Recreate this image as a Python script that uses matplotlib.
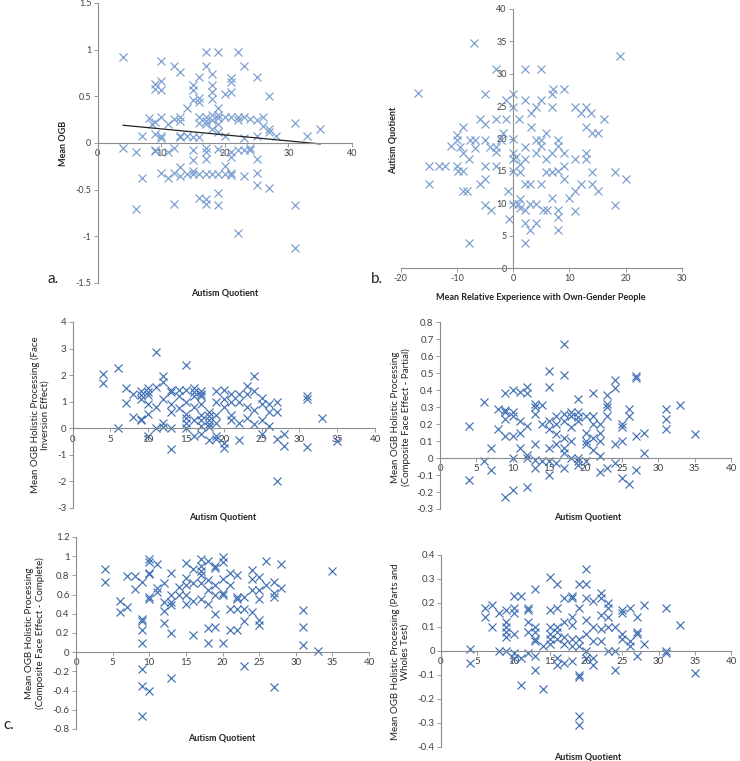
import matplotlib
matplotlib.use("Agg")
import matplotlib.pyplot as plt
from matplotlib.ticker import MultipleLocator, FuncFormatter

plt.rcParams['font.family'] = ['Lato', 'DejaVu Sans']
plt.rcParams['axes.unicode_minus'] = False

# ---- panel a: AQ vs mean OGB ----
a_aq = [4, 4, 6, 6, 7, 7, 8, 8.5,
        9, 9, 9, 9, 9, 9,
        10, 10, 10, 10, 10, 10, 10,
        11, 11, 11,
        12, 12, 12, 12, 12,
        13, 13, 13, 13, 13, 13, 13,
        14, 14, 14,
        15, 15, 15, 15, 15, 15, 15, 15,
        16, 16, 16, 16, 16, 16, 16, 16,
        17, 17, 17, 17, 17, 17, 17, 17, 17, 17, 17,
        18, 18, 18, 18, 18, 18, 18, 18,
        19, 19, 19, 19, 19, 19, 19, 19, 19, 19,
        20, 20, 20, 20, 20,
        21, 21, 21, 21, 21, 21, 21, 21,
        22, 22, 22, 22, 22,
        23, 23, 23, 23, 23,
        24, 24, 24,
        25, 25, 25, 25, 25, 25,
        26, 26,
        27, 27, 27, 27,
        28, 31, 31, 31, 33, 35]
a_ogb = [0.92, -0.05, -0.10, -0.71, 0.07, -0.38, 0.27, 0.20,
         0.63, 0.58, 0.22, 0.10, -0.08, -0.09,
         0.88, 0.66, 0.57, 0.28, 0.07, 0.05, -0.32,
         0.20, -0.10, -0.38,
         0.83, 0.26, -0.05, -0.32, -0.65,
         0.76, 0.28, 0.24, 0.07, 0.06, -0.26, -0.35,
         0.37, 0.07, -0.33,
         0.62, 0.57, 0.46, 0.06, -0.08, -0.18, -0.30, -0.33,
         0.71, 0.48, 0.44, 0.28, 0.21, 0.06, -0.33, -0.59,
         0.97, 0.83, 0.28, 0.24, 0.20, -0.05, -0.10, -0.17, -0.33, -0.60, -0.65,
         0.74, 0.62, 0.55, 0.47, 0.30, 0.25, 0.15, -0.33,
         0.98, 0.38, 0.30, 0.27, 0.20, 0.12, -0.06, -0.33, -0.54, -0.66,
         0.52, 0.28, 0.08, -0.25, -0.33,
         0.70, 0.65, 0.55, 0.28, -0.10, -0.15, -0.32, -0.34,
         0.98, 0.28, 0.25, -0.08, -0.96,
         0.82, 0.28, 0.05, -0.08, -0.35,
         0.26, -0.05, -0.08,
         0.71, 0.25, 0.08, -0.17, -0.32, -0.45,
         0.28, 0.18,
         0.50, 0.15, 0.12, -0.48,
         0.07, 0.21, -0.66, -1.13, 0.07, 0.15]
trend_x = [4, 35]
trend_y = [0.19, -0.01]

# ---- panel b: relative experience vs AQ ----
b_exp = [-16.9, -14.9, -14.9, -13.1, -12.1, -11.1, -9.9, -9.9, -9.9, -9.8,
         -9.5, -8.9, -8.9, -8.9, -8.9, -8.2, -7.9, -7.9, -7.7, -7.0,
         -6.8, -6.8, -5.9, -5.9, -5.0, -5.0, -5.0, -5.0, -5.0, -5.0,
         -4.1, -4.0, -3.1, -3.1, -3.1, -3.1, -3.0, -2.1, -1.8, -1.2,
         -1.2, -0.9, -0.7, 0.0, 0.0, 0.0, 0.0, 0.0, 0.0, 0.0,
         0.6, 0.9, 1.0, 1.2, 1.2, 1.2, 1.2, 2.1, 2.1, 2.1,
         2.1, 2.1, 2.1, 2.1, 2.1, 3.0, 3.0, 3.0, 3.1, 3.1,
         4.0, 4.0, 4.0, 4.0, 4.0, 5.0, 5.0, 5.0, 5.0, 5.0,
         5.3, 5.9, 5.9, 5.9, 6.1, 6.9, 6.9, 6.9, 6.9, 6.9,
         7.1, 8.0, 8.0, 8.0, 8.0, 8.0, 8.0, 9.1, 9.1, 9.1,
         9.1, 10.0, 11.0, 11.0, 11.0, 11.0, 12.0, 12.0, 13.0, 13.0,
         13.0, 13.0, 13.9, 14.0, 14.0, 14.1, 15.1, 15.1, 16.1, 18.2,
         18.2, 19.1, 20.1]
b_aq = [27, 15.8, 12.9, 15.8, 15.8, 18.9, 20.6, 19.7, 15.8, 15,
        18.7, 21.7, 17.7, 15, 11.9, 11.9, 3.8, 16.8, 19.7, 34.8,
        19.7, 18.6, 12.9, 23, 22.2, 26.8, 19.7, 15.8, 13.8, 9.7,
        18.7, 8.9, 30.8, 23, 18.7, 17.9, 15.7, 19.7, 20.8, 25.9,
        23, 11.9, 7.6, 26.8, 24.9, 19.9, 17.7, 16.8, 15, 9.9,
        17.2, 9.9, 23, 16.1, 14.8, 10.7, 9.2, 25.9, 30.8, 18.7,
        16.8, 13, 8.9, 7, 3.8, 12.9, 9.9, 5.9, 23.9, 21.8,
        24.9, 19.7, 17.7, 9.9, 7, 25.9, 30.8, 19.7, 18.9, 12.9,
        8.9, 20.8, 16.8, 14.8, 8.9, 26.8, 24.9, 17.7, 14.8, 10.8,
        27.7, 19.7, 18.9, 15, 8.9, 7.9, 5.8, 27.7, 17.7, 15.8,
        13.8, 10.8, 24.9, 16.8, 11.9, 8.8, 12.9, 23.9, 24.9, 21.8,
        17.7, 16.8, 23.9, 14.8, 12.9, 20.8, 20.8, 11.9, 23, 14.8,
        9.8, 32.8, 13.8]

# ---- panel c (top left): face inversion effect ----
fie_aq = [4, 4, 6, 6, 7, 7, 8, 8,
          9, 9, 9, 9, 9,
          10, 10, 10, 10, 10, 10,
          11, 11, 11, 11,
          12, 12, 12, 12, 12,
          13, 13, 13, 13, 13, 13,
          14, 14, 14,
          15, 15, 15, 15, 15, 15, 15,
          16, 16, 16, 16, 16, 16,
          17, 17, 17, 17, 17, 17, 17, 17,
          18, 18, 18, 18, 18, 18,
          19, 19, 19, 19, 19, 19,
          20, 20, 20, 20, 20,
          21, 21, 21, 21,
          22, 22, 22, 22,
          23, 23, 23, 23,
          24, 24, 24, 24,
          25, 25, 25, 25,
          26, 26, 26,
          27, 27, 27, 27,
          28, 28, 31, 31, 31, 33, 35]
fie_val = [2.03, 1.70, 2.28, 0.0, 1.5, 0.97, 1.3, 0.42,
           1.4, 1.25, 1.1, 0.35, 0.3,
           1.5, 1.35, 1.25, 0.9, 0.55, -0.3,
           2.88, 1.55, 0.8, 0.0,
           1.98, 1.75, 1.1, 0.2, 0.05,
           1.45, 1.35, 0.9, 0.6, 0.0, -0.77,
           1.45, 1.2, 0.75,
           2.38, 1.45, 1.0, 0.55, 0.4, 0.2, 0.0,
           1.5, 1.35, 1.2, 0.8, 0.3, -0.3,
           1.4, 1.3, 1.2, 0.9, 0.5, 0.3, 0.1, -0.2,
           0.6, 0.45, 0.3, 0.15, 0.05, -0.45,
           1.4, 1.0, 0.5, 0.2, -0.3, -0.4,
           1.45, 1.1, 0.8, -0.55, -0.75,
           1.3, 1.0, 0.5, 0.3,
           1.3, 1.0, 0.2, -0.43,
           1.6, 1.3, 0.8, 0.4,
           1.95, 1.4, 0.7, 0.15,
           1.15, 0.9, 0.3, -0.2,
           0.9, 0.6, 0.1,
           1.0, 0.6, -0.42, -2.0,
           -0.2, -0.65, 1.2, 1.1, -0.7, 0.4, -0.48]

# ---- panel c (top right): composite face effect, partial ----
cp_aq = [4, 4, 6, 6, 7, 7, 8, 8,
         9, 9, 9, 9, 9, 9,
         10, 10, 10, 10, 10, 10,
         11, 11, 11, 11,
         12, 12, 12, 12, 12, 12,
         13, 13, 13, 13, 13, 13,
         14, 14, 14,
         15, 15, 15, 15, 15, 15, 15,
         16, 16, 16, 16, 16,
         17, 17, 17, 17, 17, 17, 17, 17,
         18, 18, 18, 18, 18,
         19, 19, 19, 19, 19, 19, 19,
         20, 20, 20, 20, 20,
         21, 21, 21, 21, 21,
         22, 22, 22, 22, 22,
         23, 23, 23, 23, 23,
         24, 24, 24, 24,
         25, 25, 25, 25,
         26, 26, 26,
         27, 27, 27, 27,
         28, 28, 31, 31, 31, 33, 35]
cp_val = [0.19, -0.13, 0.33, -0.02, 0.06, -0.07, 0.29, 0.17,
          0.38, 0.28, 0.27, 0.23, 0.13, -0.23,
          0.40, 0.27, 0.25, 0.13, 0.0, -0.19,
          0.39, 0.22, 0.15, 0.06,
          0.42, 0.38, 0.19, 0.02, 0.0, -0.17,
          0.32, 0.30, 0.26, 0.08, -0.01, -0.06,
          0.31, 0.20, -0.02,
          0.51, 0.42, 0.22, 0.17, 0.06, -0.02, -0.10,
          0.25, 0.20, 0.14, 0.08, -0.03,
          0.67, 0.49, 0.26, 0.22, 0.12, 0.06, 0.03, -0.06,
          0.27, 0.25, 0.18, 0.10, 0.0,
          0.35, 0.27, 0.24, 0.22, 0.0, -0.02, -0.04,
          0.25, 0.15, 0.10, 0.08, -0.02,
          0.38, 0.25, 0.20, 0.12, 0.05,
          0.20, 0.15, 0.10, 0.01, -0.08,
          0.37, 0.32, 0.30, 0.25, -0.06,
          0.46, 0.41, 0.08, -0.03,
          0.20, 0.18, 0.10, -0.12,
          0.29, 0.25, -0.15,
          0.48, 0.47, 0.13, -0.07,
          0.15, 0.03, 0.29, 0.23, 0.17, 0.31, 0.14]

# ---- panel c (bottom left): composite face effect, complete ----
cc_aq = [4, 4, 6, 6, 7, 7, 8, 8,
         9, 9, 9, 9, 9, 9, 9, 9,
         10, 10, 10, 10, 10, 10, 10,
         11, 11, 11,
         12, 12, 12, 12,
         13, 13, 13, 13, 13, 13,
         14, 14,
         15, 15, 15, 15, 15,
         16, 16, 16, 16,
         17, 17, 17, 17, 17, 17,
         18, 18, 18, 18, 18, 18,
         19, 19, 19, 19, 19, 19,
         20, 20, 20, 20, 20, 20,
         21, 21, 21, 21,
         22, 22, 22, 22, 22,
         23, 23, 23, 23,
         24, 24, 24, 24,
         25, 25, 25, 25, 25,
         26, 26,
         27, 27, 27, 27,
         28, 28, 31, 31, 31, 33, 35]
cc_val = [0.87, 0.73, 0.53, 0.42, 0.79, 0.47, 0.79, 0.66,
          0.73, 0.35, 0.33, 0.23, 0.10, -0.18, -0.35, -0.66,
          0.97, 0.94, 0.83, 0.81, 0.57, 0.55, -0.40,
          0.92, 0.67, 0.63,
          0.72, 0.52, 0.43, 0.30,
          0.83, 0.60, 0.52, 0.49, 0.20, -0.27,
          0.68, 0.60,
          0.93, 0.77, 0.70, 0.60, 0.50,
          0.87, 0.72, 0.53, 0.18,
          0.97, 0.90, 0.85, 0.80, 0.72, 0.55,
          0.95, 0.75, 0.65, 0.50, 0.25, 0.10,
          0.90, 0.88, 0.70, 0.60, 0.40, 0.26,
          0.99, 0.94, 0.76, 0.62, 0.60, 0.10,
          0.83, 0.70, 0.45, 0.23,
          0.80, 0.58, 0.55, 0.45, 0.23,
          0.58, 0.45, 0.33, -0.14,
          0.86, 0.76, 0.65, 0.42,
          0.78, 0.65, 0.55, 0.34, 0.28,
          0.95, 0.70,
          0.73, 0.62, 0.57, -0.36,
          0.92, 0.67, 0.44, 0.26, 0.08, 0.01, 0.85]

# ---- panel c (bottom right): parts and wholes test ----
pw_aq = [4, 4, 6, 6, 7, 7, 8, 8,
         9, 9, 9, 9, 9, 9,
         10, 10, 10, 10, 10, 10,
         11, 11, 11,
         12, 12, 12, 12, 12,
         13, 13, 13, 13, 13, 13, 13,
         14, 14,
         15, 15, 15, 15, 15, 15,
         16, 16, 16, 16, 16, 16, 16,
         17, 17, 17, 17, 17,
         18, 18, 18, 18, 18, 18, 18,
         19, 19, 19, 19, 19, 19, 19, 19,
         20, 20, 20, 20, 20, 20, 20,
         21, 21, 21, 21, 21,
         22, 22, 22, 22, 22,
         23, 23, 23, 23, 23,
         24, 24, 24,
         25, 25, 25, 25,
         26, 26, 26,
         27, 27, 27, 27,
         28, 28, 31, 31, 31, 33, 35]
pw_val = [0.01, -0.05, 0.18, 0.14, 0.19, 0.10, 0.16, 0.0,
          0.17, 0.12, 0.10, 0.08, 0.06, 0.0,
          0.23, 0.18, 0.16, 0.07, -0.01, -0.03,
          0.23, -0.03, -0.14,
          0.18, 0.17, 0.12, 0.08, -0.01,
          0.26, 0.10, 0.08, 0.05, 0.04, -0.02, -0.08,
          0.02, -0.16,
          0.31, 0.17, 0.10, 0.07, 0.05, 0.03,
          0.28, 0.18, 0.10, 0.08, 0.05, -0.03, -0.06,
          0.22, 0.12, 0.06, 0.03, -0.05,
          0.23, 0.22, 0.14, 0.11, 0.05, 0.02, -0.04,
          0.28, 0.18, 0.05, 0.02, -0.10, -0.11, -0.27, -0.31,
          0.34, 0.28, 0.22, 0.13, 0.07, 0.0, -0.03,
          0.21, 0.10, 0.04, -0.03, -0.06,
          0.24, 0.22, 0.15, 0.09, 0.04,
          0.20, 0.18, 0.14, 0.10, 0.0,
          0.10, 0.0, -0.08,
          0.17, 0.16, 0.07, 0.05,
          0.18, 0.04, 0.02,
          0.14, 0.08, 0.07, -0.02,
          0.19, 0.03, 0.18, 0.0, -0.01, 0.11, -0.09]

W, H = 740, 761
fig = plt.figure(figsize=(W / 100, H / 100), dpi=100)


def box(x0, x1, ytop, ybot):
    return [x0 / W, 1 - ybot / H, (x1 - x0) / W, (ybot - ytop) / H]


def label(x, y, s, **kw):
    fig.text(x / W, 1 - y / H, s, ha='center', va='center', color='#222222', **kw)


def fmt(v, pos):
    if abs(v) < 1e-9:
        v = 0
    return '%g' % round(v, 2)


def style(ax, xlim, ylim, xstep, ystep, size=6.5):
    ax.set_xlim(*xlim)
    ax.set_ylim(*ylim)
    ax.patch.set_visible(False)
    for s in ('top', 'right'):
        ax.spines[s].set_visible(False)
    ax.spines['left'].set_position(('data', 0))
    ax.spines['bottom'].set_position(('data', 0))
    for s in ('left', 'bottom'):
        ax.spines[s].set_color('#8c8c8c')
        ax.spines[s].set_linewidth(0.8)
    ax.xaxis.set_major_locator(MultipleLocator(xstep))
    ax.yaxis.set_major_locator(MultipleLocator(ystep))
    ax.xaxis.set_major_formatter(FuncFormatter(fmt))
    ax.yaxis.set_major_formatter(FuncFormatter(fmt))
    ax.tick_params(length=3, width=0.6, color='#8c8c8c', labelsize=size,
                   labelcolor='#404040', pad=1.5)


light = '#789dcf'
dark = '#3f6fb4'
mk = dict(ls='none', marker='x', ms=6, mew=0.85)

# a.
ax = fig.add_axes(box(97.7, 352, 3, 283))
style(ax, (0, 40), (-1.5, 1.5), 10, 0.5)
ax.plot(a_aq, a_ogb, color=light, **mk)
ax.plot(trend_x, trend_y, color='#222222', lw=0.9)
label(64, 143, 'Mean OGB', rotation=90, fontsize=6.5, fontweight='bold')
label(225, 293, 'Autism Quotient', fontsize=6.5, fontweight='bold')
label(53, 279, 'a.', fontsize=11)

# b.
ax = fig.add_axes(box(400.7, 681.7, 9, 268))
style(ax, (-20, 30), (0, 40), 10, 5)
ax.plot(b_exp, b_aq, color=light, **mk)
label(393, 140, 'Autism Quotient', rotation=90, fontsize=6.5, fontweight='bold')
label(541, 297, 'Mean Relative Experience with Own-Gender People',
      fontsize=6.5, fontweight='bold')
label(377, 279, 'b.', fontsize=11)

# c. four holistic processing measures
panels = [
    (box(72.7, 375, 322, 508), (-3, 4), 1, fie_aq, fie_val,
     'Mean OGB Holistic Processing (Face\nInversion Effect)', (40, 415), (223, 517)),
    (box(440, 731, 322, 509), (-0.3, 0.8), 0.1, cp_aq, cp_val,
     'Mean OGB Holistic Processing\n(Composite Face Effect - Partial)', (401, 417), (588, 517)),
    (box(76, 369, 537, 729), (-0.8, 1.2), 0.2, cc_aq, cc_val,
     'Mean OGB Holistic Processing\n(Composite Face Effect - Complete)', (35, 633), (222, 738)),
    (box(441, 731, 555, 747), (-0.4, 0.4), 0.1, pw_aq, pw_val,
     'Mean OGB Holistic Processing (Parts and\nWholes Test)', (400, 652), (588, 757)),
]
for rect, ylim, ystep, xs, ys, ylab, ypos, xpos in panels:
    ax = fig.add_axes(rect)
    style(ax, (0, 40), ylim, 5, ystep, size=7)
    ax.plot(xs, ys, color=dark, **mk)
    label(ypos[0], ypos[1], ylab, rotation=90, fontsize=7, linespacing=1.1)
    label(xpos[0], xpos[1], 'Autism Quotient', fontsize=6.5, fontweight='bold')
label(9, 725, 'c.', fontsize=11)

fig.savefig('out.png', dpi=100)
